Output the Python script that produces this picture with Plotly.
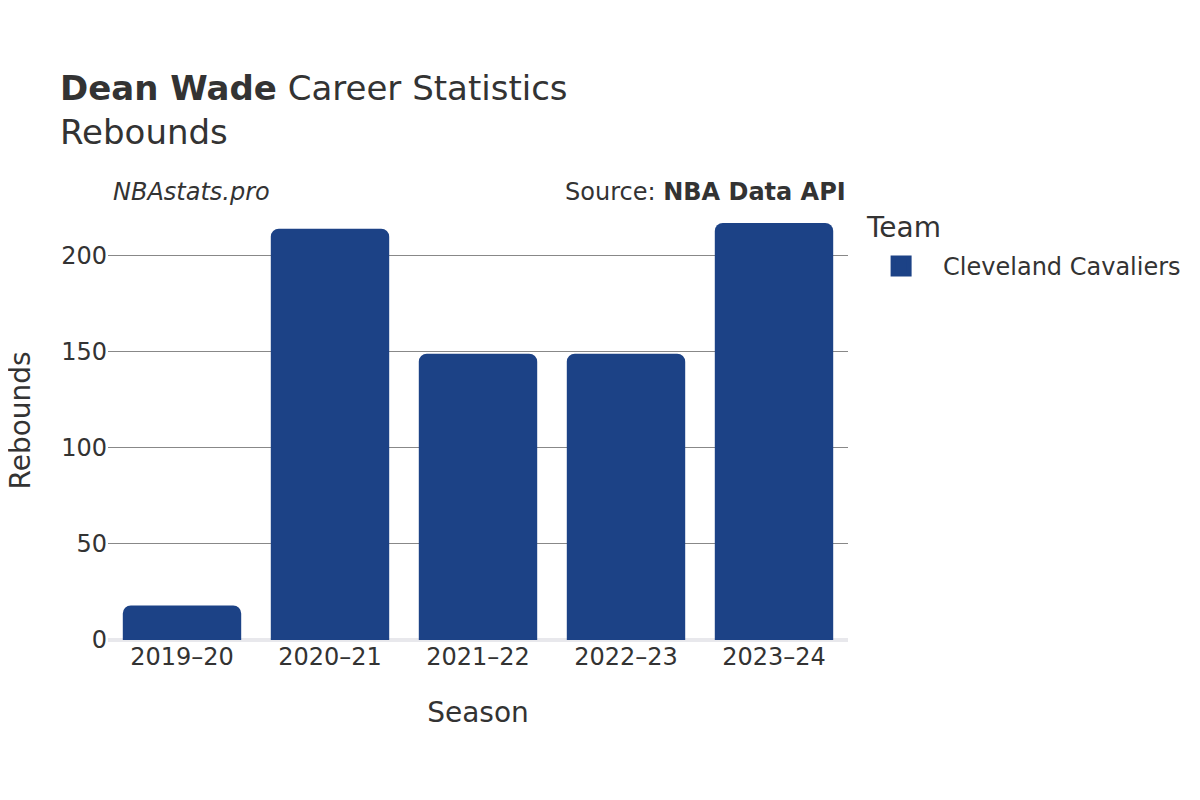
import plotly.graph_objects as go

seasons = ["2019–20", "2020–21", "2021–22", "2022–23", "2023–24"]
rebounds = [18, 214, 149, 149, 217]
team = "Cleveland Cavaliers"
bar_color = "#1c4286"

fig = go.Figure()
fig.add_trace(go.Bar(
    x=seasons, y=rebounds, name=team,
    marker=dict(color=bar_color, cornerradius=8, line=dict(width=0)),
    showlegend=False, legendgroup=team,
))
# legend entry with a larger swatch
fig.add_trace(go.Scatter(
    x=[None], y=[None], mode="markers", name=team, legendgroup=team,
    marker=dict(symbol="square", size=16, color=bar_color,
                line=dict(width=5, color=bar_color)),
    showlegend=True, hoverinfo="skip",
))

font_family = "DejaVu Sans"
fig.update_layout(
    width=1200, height=800,
    paper_bgcolor="white", plot_bgcolor="white",
    font=dict(family=font_family, color="#333333", size=24),
    margin=dict(l=100, r=360, t=193, b=168),
    title=dict(
        text="<b>Dean Wade</b> Career Statistics<br>Rebounds",
        x=52/1200, xanchor="left", y=1-92/800, yanchor="top",
        font=dict(size=34, color="#333333"),
    ),
    bargap=0.2,
    xaxis=dict(
        title=dict(text="Season", font=dict(size=28), standoff=32),
        tickfont=dict(size=24), showgrid=False, ticks="",
    ),
    yaxis=dict(
        automargin=False,
        tickfont=dict(size=24), showgrid=True, gridcolor="#888888", gridwidth=1,
        zeroline=True, zerolinecolor="#e8e8ec", zerolinewidth=4,
        tickvals=[0, 50, 100, 150, 200], ticks="",
    ),
    legend=dict(
        font=dict(size=24), x=1.015, xanchor="left", y=0.902, yanchor="top",
        itemsizing="trace", itemwidth=74,
    ),
    annotations=[
        dict(text="Rebounds", xref="paper", yref="paper",
             x=-88/740, y=0.5, xanchor="center", yanchor="middle",
             textangle=-90, showarrow=False,
             font=dict(size=28, color="#333333")),
        dict(text="<i>NBAstats.pro</i>", xref="paper", yref="paper",
             x=0.004, y=1.0, yshift=9, xanchor="left", yanchor="middle",
             showarrow=False, font=dict(size=24, color="#333333")),
        dict(text="Source: <b>NBA Data API</b>", xref="paper", yref="paper",
             x=1.0, y=1.0, yshift=9, xanchor="right", yanchor="middle",
             showarrow=False, font=dict(size=24, color="#333333")),
        dict(text="Team", xref="paper", yref="paper",
             x=1.0 + 16/740, y=1.0, yshift=-26, xanchor="left", yanchor="middle",
             showarrow=False, font=dict(size=28, color="#333333")),
    ],
)

fig.write_html("out.html")
